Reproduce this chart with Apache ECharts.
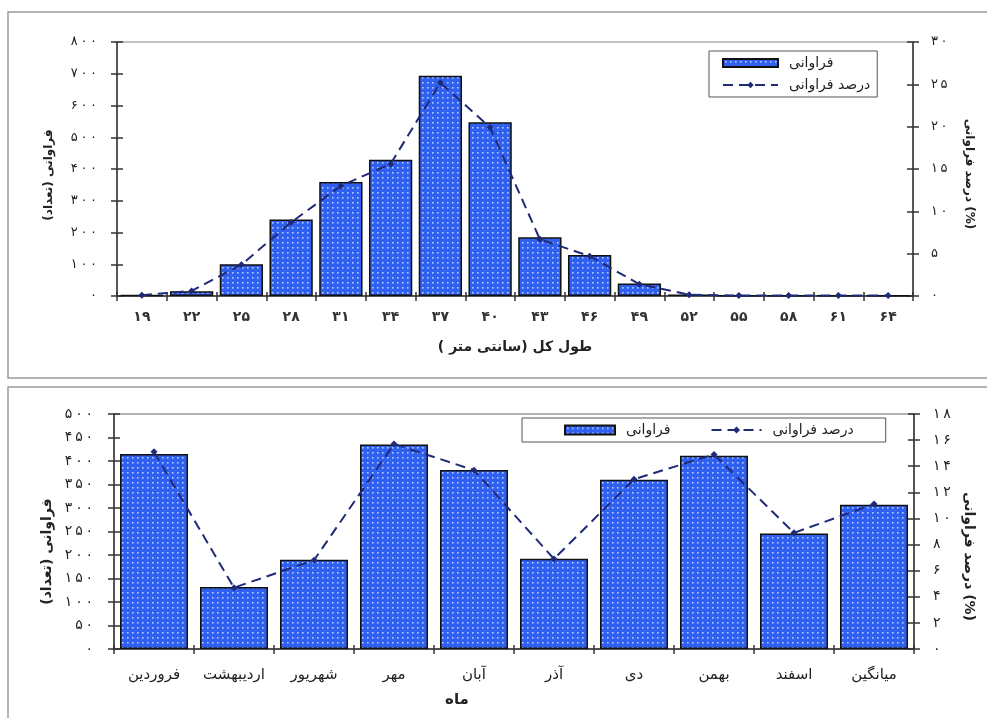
<!DOCTYPE html>
<html>
<head>
<meta charset="utf-8">
<script src="https://cdn.jsdelivr.net/npm/echarts@6/dist/echarts.min.js"></script>
<style>
  html, body { margin: 0; padding: 0; background: #fff; }
  #chart { width: 987px; height: 718px; }
</style>
</head>
<body>
<div id="chart"></div>
<script>
// ---- top chart: length-frequency distribution ----
const lengthClasses = ['۱۹', '۲۲', '۲۵', '۲۸', '۳۱', '۳۴', '۳۷', '۴۰', '۴۳', '۴۶', '۴۹', '۵۲', '۵۵', '۵۸', '۶۱', '۶۴'];
const lengthCounts = [3, 15, 100, 241, 359, 429, 694, 547, 185, 129, 39, 4, 1, 1, 1, 1];
const lengthPercent = [0.1, 0.6, 3.7, 8.7, 13.0, 15.6, 25.2, 19.9, 6.7, 4.7, 1.4, 0.15, 0.05, 0.05, 0.05, 0.05];

// ---- bottom chart: monthly frequency ----
const months = ['فروردین', 'اردیبهشت', 'شهریور', 'مهر', 'آبان', 'آذر', 'دی', 'بهمن', 'اسفند', 'میانگین'];
const monthCounts = [415, 132, 190, 435, 381, 192, 360, 411, 246, 307];
const monthPercent = [15.1, 4.7, 6.8, 15.7, 13.7, 6.9, 13.0, 14.9, 8.9, 11.1];

// axis ranges / tick steps
const topCountAxis = { min: 0, max: 800, interval: 100 };
const topPctAxis = { min: 0, max: 30, interval: 5 };
const botCountAxis = { min: 0, max: 500, interval: 50 };
const botPctAxis = { min: 0, max: 18, interval: 2 };

const NAME_COUNT = 'فراوانی';
const NAME_PCT = 'درصد فراوانی';

const FONT = 'DejaVu Sans';
const faDigits = '۰۱۲۳۴۵۶۷۸۹';
// Persian digits, slightly spread apart with thin spaces
const toFa = v => String(v).split('').map(d => faDigits[d]).join('\u2009');

// dotted blue fill for the bars
function dotPattern() {
  const c = document.createElement('canvas');
  c.width = 5; c.height = 5;
  const g = c.getContext('2d');
  g.fillStyle = '#2f60f0';
  g.fillRect(0, 0, 5, 5);
  g.fillStyle = '#b8cbff';
  g.fillRect(2, 2, 1.6, 1.6);
  return c;
}
const barFill = { image: dotPattern(), repeat: 'repeat' };
const lineColor = '#1f2a78';
const axisColor = '#333';

const axisLineStyle = { show: true, lineStyle: { color: axisColor, width: 1.5 } };
const labelStyle = { fontFamily: FONT, fontSize: 13, color: '#222' };
const nameStyle = { fontFamily: FONT, fontSize: 14, fontWeight: 'bold', color: '#222' };
const nameAt = (size, padding) => Object.assign({}, nameStyle, { fontSize: size, padding });

function catAxis(gridIndex, data, extra) {
  return Object.assign({
    gridIndex, type: 'category', data, position: 'bottom',
    boundaryGap: true,
    axisLine: axisLineStyle,
    axisTick: { show: true, interval: 0, length: 5, lineStyle: { color: axisColor, width: 1.5 } },
    axisLabel: Object.assign({ interval: 0 }, labelStyle),
    splitLine: { show: false }
  }, extra);
}
// companion axis that only draws the inner half of each tick
function catTickAxis(gridIndex, data) {
  return {
    gridIndex, type: 'category', data, position: 'bottom', boundaryGap: true,
    axisLine: { show: false },
    axisTick: { show: true, inside: true, interval: 0, length: 4, lineStyle: { color: axisColor, width: 1.5 } },
    axisLabel: { show: false }, splitLine: { show: false }
  };
}
function valAxis(gridIndex, pos, range, extra) {
  return Object.assign({
    gridIndex, type: 'value', position: pos,
    min: range.min, max: range.max, interval: range.interval,
    axisLine: axisLineStyle,
    axisTick: { show: true, length: 6, lineStyle: { color: axisColor, width: 1.5 } },
    axisLabel: Object.assign({ formatter: v => toFa(v) }, labelStyle),
    splitLine: { show: false },
    nameLocation: 'middle', nameRotate: pos === 'left' ? 90 : -90, nameTextStyle: nameStyle
  }, extra);
}
function valTickAxis(gridIndex, pos, range) {
  return {
    gridIndex, type: 'value', position: pos,
    min: range.min, max: range.max, interval: range.interval,
    axisLine: { show: false },
    axisTick: { show: true, inside: true, length: 6, lineStyle: { color: axisColor, width: 1.5 } },
    axisLabel: { show: false }, splitLine: { show: false }
  };
}

const barItem = { color: barFill, borderColor: '#111', borderWidth: 1.5 };
const lineStyle = { color: lineColor, width: 2, type: [10, 6] };
const legendText = { fontFamily: FONT, fontSize: 14, color: '#222', padding: [0, 0, 0, 6] };

const option = {
  animation: false,
  backgroundColor: '#fff',
  textStyle: { fontFamily: FONT },
  graphic: [
    { type: 'rect', shape: { x: 8, y: 12, width: 1000, height: 366 },
      style: { fill: 'none', stroke: '#9a9a9a', lineWidth: 1.5 }, z: -1 },
    { type: 'rect', shape: { x: 8, y: 387, width: 1000, height: 400 },
      style: { fill: 'none', stroke: '#9a9a9a', lineWidth: 1.5 }, z: -1 }
  ],
  grid: [
    { left: 117, top: 42, width: 796, height: 254, show: true, borderColor: '#888', borderWidth: 1 },
    { left: 114, top: 414, width: 800, height: 235, show: true, borderColor: '#666', borderWidth: 1 }
  ],
  legend: [
    {
      orient: 'vertical', left: 709, top: 51,
      padding: [5, 7, 5, 13], itemGap: 8, itemWidth: 55, itemHeight: 8,
      borderColor: '#555', borderWidth: 1,
      textStyle: legendText,
      data: [{ name: NAME_COUNT, icon: 'rect' }, { name: NAME_PCT }]
    },
    {
      orient: 'horizontal', left: 522, top: 418,
      padding: [5, 32, 5, 42], itemGap: 40, itemWidth: 50, itemHeight: 9,
      borderColor: '#555', borderWidth: 1,
      textStyle: legendText,
      data: [{ name: NAME_COUNT, icon: 'rect' }, { name: NAME_PCT }]
    }
  ],
  xAxis: [
    catAxis(0, lengthClasses, {
      axisLabel: Object.assign({ interval: 0, margin: 14 }, labelStyle, { fontSize: 14, fontWeight: 'bold', color: '#333' }),
      name: 'طول کل (سانتی متر )', nameLocation: 'middle', nameGap: 44, nameTextStyle: nameStyle
    }),
    catTickAxis(0, lengthClasses),
    catAxis(1, months, {
      axisLabel: Object.assign({ interval: 0, margin: 19 }, labelStyle, { fontSize: 15 }),
      name: 'ماه', nameLocation: 'middle', nameGap: 44,
      nameTextStyle: nameAt(15, [0, 114, 0, 0])
    }),
    catTickAxis(1, months)
  ],
  yAxis: [
    valAxis(0, 'left', topCountAxis, { name: 'فراوانی (تعداد)', nameGap: 62, nameTextStyle: nameAt(12, [0, 12, 0, 0]),
      axisLabel: Object.assign({ formatter: v => toFa(v), margin: 20 }, labelStyle) }),
    valAxis(0, 'right', topPctAxis, { name: 'درصد فراوانی (%)', nameGap: 50, nameTextStyle: nameAt(12, [0, 0, 0, 10]),
      axisLabel: Object.assign({ formatter: v => toFa(v), margin: 18 }, labelStyle) }),
    valTickAxis(0, 'left', topCountAxis),
    valTickAxis(0, 'right', topPctAxis),
    valAxis(1, 'left', botCountAxis, { name: 'فراوانی (تعداد)', nameGap: 56, nameTextStyle: nameAt(14, [0, 40, 0, 0]),
      axisLabel: Object.assign({ formatter: v => toFa(v), margin: 21 }, labelStyle, { fontSize: 14 }) }),
    valAxis(1, 'right', botPctAxis, { name: 'درصد فراوانی (%)', nameGap: 47, nameTextStyle: nameAt(14, [0, 0, 0, 50]),
      axisLabel: Object.assign({ formatter: v => toFa(v), margin: 19 }, labelStyle, { fontSize: 14 }) }),
    valTickAxis(1, 'left', botCountAxis),
    valTickAxis(1, 'right', botPctAxis)
  ],
  series: [
    { name: NAME_COUNT, type: 'bar', xAxisIndex: 0, yAxisIndex: 0, data: lengthCounts,
      barCategoryGap: '13%', itemStyle: barItem },
    { name: NAME_PCT, type: 'line', xAxisIndex: 0, yAxisIndex: 1, data: lengthPercent,
      symbol: 'diamond', symbolSize: 7, itemStyle: { color: lineColor }, lineStyle: lineStyle, z: 5 },
    { name: NAME_COUNT, type: 'bar', xAxisIndex: 2, yAxisIndex: 4, data: monthCounts,
      barCategoryGap: '15%', itemStyle: barItem },
    { name: NAME_PCT, type: 'line', xAxisIndex: 2, yAxisIndex: 5, data: monthPercent,
      symbol: 'diamond', symbolSize: 7, itemStyle: { color: lineColor }, lineStyle: lineStyle, z: 5 }
  ]
};

const chart = echarts.init(document.getElementById('chart'), null, { renderer: 'canvas' });
chart.setOption(option);
</script>
</body>
</html>
